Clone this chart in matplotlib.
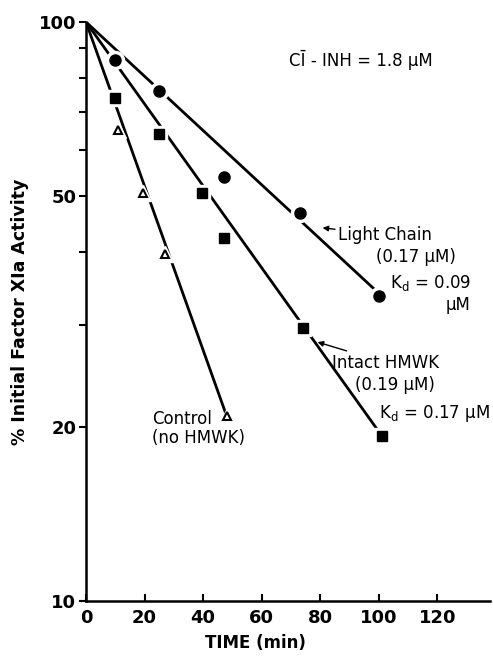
import numpy as np
import matplotlib
matplotlib.use("Agg")
import matplotlib.pyplot as plt
from matplotlib.ticker import FixedLocator, NullFormatter

# data (time in min, % initial activity)
light_t = [10, 25, 47, 73, 100]
light_y = [86, 76, 54, 46.8, 33.6]
intact_t = [10, 25, 39.5, 47, 74, 101]
intact_y = [74, 64, 50.7, 42.4, 29.6, 19.3]
control_t = [11, 19.6, 27, 48]
control_y = [65, 50.7, 39.8, 20.9]

# fitted lines start at (0, 100)
fit_light = ([0, 100], [100, 34])
fit_intact = ([0, 101], [100, 19.3])
fit_control = ([0, 48], [100, 20.9])

yticks = [10, 20, 50, 100]
yminor = [30, 40, 60, 70, 80, 90]
xticks = [0, 20, 40, 60, 80, 100, 120]

plt.rcParams['font.family'] = ['DejaVu Sans']

fig = plt.figure(figsize=(4.93, 6.56), dpi=100)
ax = fig.add_axes([0.1744, 0.0838, 0.8196, 0.8827])

for (xs, ys) in [fit_light, fit_intact, fit_control]:
    ax.plot(xs, ys, color='black', lw=2, zorder=1, solid_capstyle='butt')

def pts(t, y, m, s):
    ax.plot(t, y, ls='none', marker=m, ms=s + 5, color='white', mec='white', zorder=2)
    ax.plot(t, y, ls='none', marker=m, ms=s, color='black', zorder=3)

pts(light_t, light_y, 'o', 8)
pts(intact_t, intact_y, 's', 7)
ax.plot(control_t, control_y, ls='none', marker='^', ms=11, color='white', zorder=2)
ax.plot(control_t, control_y, ls='none', marker='^', ms=6, mfc='white', mec='black',
        mew=1.5, zorder=3)

ax.set_yscale('log')
ax.set_ylim(10, 100)
ax.set_xlim(0, 138)
ax.yaxis.set_major_locator(FixedLocator(yticks))
ax.yaxis.set_minor_locator(FixedLocator(yminor))
ax.yaxis.set_minor_formatter(NullFormatter())
ax.set_yticklabels([str(v) for v in yticks])
ax.set_xticks(xticks)

for s in ['top', 'right']:
    ax.spines[s].set_visible(False)
for s in ['left', 'bottom']:
    ax.spines[s].set_linewidth(1.8)

ax.tick_params(axis='y', which='both', direction='out', length=5, width=1.5,
               labelsize=13, pad=2)
ax.tick_params(axis='x', direction='in', length=5, width=1.5, labelsize=13, pad=6)
for lab in ax.get_xticklabels() + ax.get_yticklabels():
    lab.set_fontweight('bold')

ax.set_xlabel('TIME (min)', fontsize=12, fontweight='bold')
ax.xaxis.set_label_coords(0.42, -0.057)
ax.set_ylabel('% Initial Factor XIa Activity', fontsize=12.5, fontweight='bold')
ax.yaxis.set_label_coords(-0.14, 0.5)

fs = 12
ax.text(94, 86, 'CĪ - INH = 1.8 μM', fontsize=fs, ha='center', va='center')

ax.annotate('Light Chain', xy=(80.8, 44.1), xytext=(86, 42.9), fontsize=fs,
            ha='left', va='center',
            arrowprops=dict(arrowstyle='-|>', color='black', lw=1, shrinkA=0, shrinkB=0,
                            mutation_scale=8))
ax.text(99, 39.3, '(0.17 μM)', fontsize=fs, ha='left', va='center')
ax.text(104, 35.4, r'K$_\mathrm{d}$ = 0.09', fontsize=fs, ha='left', va='center')
ax.text(123, 32.4, 'μM', fontsize=fs, ha='left', va='center')

ax.annotate('Intact HMWK', xy=(79.1, 28.0), xytext=(84, 25.8), fontsize=fs,
            ha='left', va='center',
            arrowprops=dict(arrowstyle='-|>', color='black', lw=1, shrinkA=0, shrinkB=0,
                            mutation_scale=8))
ax.text(92, 23.6, '(0.19 μM)', fontsize=fs, ha='left', va='center')
ax.text(100, 21.1, r'K$_\mathrm{d}$ = 0.17 μM', fontsize=fs, ha='left', va='center')

ax.text(22.5, 20.6, 'Control', fontsize=fs, ha='left', va='center')
ax.text(22.5, 19.1, '(no HMWK)', fontsize=fs, ha='left', va='center')

plt.savefig('out.png', dpi=100)
